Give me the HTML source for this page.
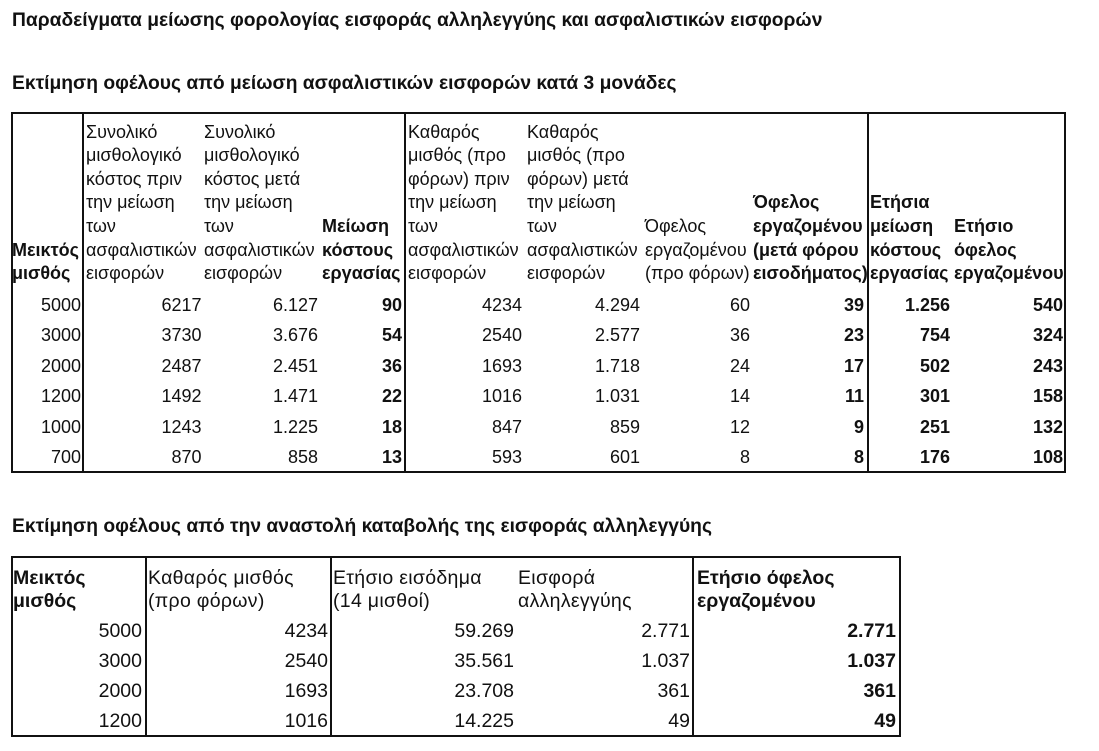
<!DOCTYPE html>
<html><head><meta charset="utf-8">
<style>
html,body{margin:0;padding:0;background:#fff;}
#c{position:relative;width:1099px;height:751px;overflow:hidden;font-family:"Liberation Sans","DejaVu Sans",sans-serif;color:#111;}
.t{position:absolute;font-size:18px;white-space:nowrap;}
.b{font-weight:bold;}
.box{position:absolute;border:2px solid #111;box-sizing:border-box;}
.v{position:absolute;width:2px;background:#111;}
.h1{line-height:23.6px;}
.d1{line-height:30.5px;text-align:right;}
.h2{line-height:23px;font-size:19.5px;}
.d2{line-height:30px;text-align:right;font-size:19.5px;}
.ti{line-height:24px;font-weight:bold;font-size:19.25px;}
</style></head><body><div id="c">

<div class="t ti" style="left:12px;top:9px;">Παραδείγματα μείωσης φορολογίας εισφοράς αλληλεγγύης και ασφαλιστικών εισφορών</div>
<div class="t ti" style="left:12px;top:72px;">Εκτίμηση οφέλους από μείωση ασφαλιστικών εισφορών κατά 3 μονάδες</div>
<div class="t ti" style="left:12px;top:515px;">Εκτίμηση οφέλους από την αναστολή καταβολής της εισφοράς αλληλεγγύης</div>

<!-- Table 1 -->
<div class="box" style="left:11px;top:112px;width:1055px;height:361px;"></div>
<div class="v" style="left:82px;top:112px;height:361px;"></div>
<div class="v" style="left:404px;top:112px;height:361px;"></div>
<div class="v" style="left:867px;top:112px;height:361px;"></div>

<div class="t h1 b" style="left:12px;top:238.8px;">Μεικτός<br>μισθός</div>
<div class="t h1" style="left:86px;top:120.6px;">Συνολικό<br>μισθολογικό<br>κόστος πριν<br>την μείωση<br>των<br>ασφαλιστικών<br>εισφορών</div>
<div class="t h1" style="left:204px;top:120.6px;">Συνολικό<br>μισθολογικό<br>κόστος μετά<br>την μείωση<br>των<br>ασφαλιστικών<br>εισφορών</div>
<div class="t h1 b" style="left:322px;top:215px;">Μείωση<br>κόστους<br>εργασίας</div>
<div class="t h1" style="left:408px;top:120.6px;">Καθαρός<br>μισθός (προ<br>φόρων) πριν<br>την μείωση<br>των<br>ασφαλιστικών<br>εισφορών</div>
<div class="t h1" style="left:527px;top:120.6px;">Καθαρός<br>μισθός (προ<br>φόρων) μετά<br>την μείωση<br>των<br>ασφαλιστικών<br>εισφορών</div>
<div class="t h1" style="left:645px;top:215px;">Όφελος<br>εργαζομένου<br>(προ φόρων)</div>
<div class="t h1 b" style="left:753px;top:191.4px;">Όφελος<br>εργαζομένου<br>(μετά φόρου<br>εισοδήματος)</div>
<div class="t h1 b" style="left:870px;top:191.4px;">Ετήσια<br>μείωση<br>κόστους<br>εργασίας</div>
<div class="t h1 b" style="left:954px;top:215px;">Ετήσιο<br>όφελος<br>εργαζομένου</div>

<div class="t d1" style="right:1018px;top:289.5px;">5000<br>3000<br>2000<br>1200<br>1000<br>700</div>
<div class="t d1" style="right:897.5px;top:289.5px;">6217<br>3730<br>2487<br>1492<br>1243<br>870</div>
<div class="t d1" style="right:781px;top:289.5px;">6.127<br>3.676<br>2.451<br>1.471<br>1.225<br>858</div>
<div class="t d1 b" style="right:697px;top:289.5px;">90<br>54<br>36<br>22<br>18<br>13</div>
<div class="t d1" style="right:577px;top:289.5px;">4234<br>2540<br>1693<br>1016<br>847<br>593</div>
<div class="t d1" style="right:459px;top:289.5px;">4.294<br>2.577<br>1.718<br>1.031<br>859<br>601</div>
<div class="t d1" style="right:349px;top:289.5px;">60<br>36<br>24<br>14<br>12<br>8</div>
<div class="t d1 b" style="right:235px;top:289.5px;">39<br>23<br>17<br>11<br>9<br>8</div>
<div class="t d1 b" style="right:149px;top:289.5px;">1.256<br>754<br>502<br>301<br>251<br>176</div>
<div class="t d1 b" style="right:36px;top:289.5px;">540<br>324<br>243<br>158<br>132<br>108</div>

<!-- Table 2 -->
<div class="box" style="left:11px;top:556px;width:890px;height:181px;"></div>
<div class="v" style="left:145px;top:556px;height:181px;"></div>
<div class="v" style="left:330px;top:556px;height:181px;"></div>
<div class="v" style="left:692px;top:556px;height:181px;"></div>

<div class="t h2 b" style="left:13px;top:566.5px;">Μεικτός<br>μισθός</div>
<div class="t h2" style="left:148px;top:566.5px;letter-spacing:0.3px;">Καθαρός μισθός<br>(προ φόρων)</div>
<div class="t h2" style="left:333px;top:566.5px;letter-spacing:0.3px;">Ετήσιο εισόδημα<br>(14 μισθοί)</div>
<div class="t h2" style="left:518px;top:566.5px;letter-spacing:0.3px;">Εισφορά<br>αλληλεγγύης</div>
<div class="t h2 b" style="left:697px;top:566.5px;">Ετήσιο όφελος<br>εργαζομένου</div>

<div class="t d2" style="right:957px;top:616px;">5000<br>3000<br>2000<br>1200</div>
<div class="t d2" style="right:771px;top:616px;">4234<br>2540<br>1693<br>1016</div>
<div class="t d2" style="right:585px;top:616px;">59.269<br>35.561<br>23.708<br>14.225</div>
<div class="t d2" style="right:409px;top:616px;">2.771<br>1.037<br>361<br>49</div>
<div class="t d2 b" style="right:203px;top:616px;">2.771<br>1.037<br>361<br>49</div>

</div></body></html>
